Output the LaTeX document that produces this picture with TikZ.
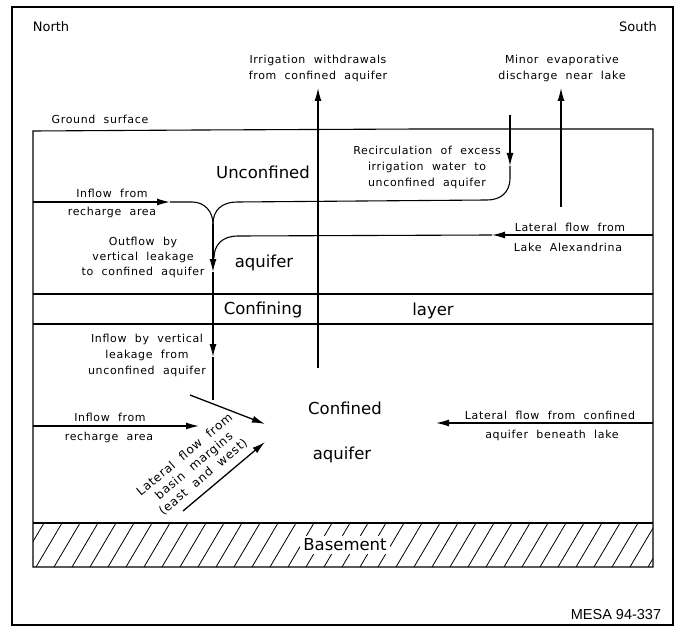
\documentclass[tikz,border=0pt]{standalone}
\usepackage{fontspec}
\setmainfont{DejaVu Sans}
\newfontfamily\lblfont{DejaVu Sans}[LetterSpace=6,WordSpace=2]
\newfontfamily\mesafont{Liberation Sans}
\usetikzlibrary{arrows.meta}
\tikzset{
  ln/.style={line width=1.1pt},
  arr/.style={line width=1.3pt,-{Latex[length=13pt,width=7pt]}},
  lbl/.style={font=\lblfont\fontsize{11}{16}\selectfont, align=center, inner sep=1pt},
  bigl/.style={font=\fontsize{16.5}{20}\selectfont, inner sep=0pt},
  dirl/.style={font=\fontsize{13}{15}\selectfont, inner sep=0pt},
}
\begin{document}
\begin{tikzpicture}[x=1pt,y=-1pt]
\useasboundingbox (0,0) rectangle (682,628);
\draw[line width=1.8pt] (12,7) rectangle (673,625);

% basement hatching
\begin{scope}
  \clip (33,523) rectangle (653,567);
  \foreach \x in {0,18,...,680} \draw[line width=0.8pt] (\x,567) -- (\x+26,523);
\end{scope}

% frame of the section
\coordinate (gl) at (33,131);
\coordinate (gm1) at (200,130);
\coordinate (gm2) at (420,129);
\coordinate (gr) at (653,129);
\coordinate (bl) at (33,567);
\coordinate (br) at (653,567);
\draw[ln] (bl) -- (gl) -- (gm1) -- (gm2) -- (gr) -- (br) -- cycle;
\coordinate (ct1) at (33,294); \coordinate (ct2) at (653,294);
\coordinate (cb1) at (33,324); \coordinate (cb2) at (653,324);
\coordinate (bt1) at (33,523); \coordinate (bt2) at (653,523);
\draw[ln] (ct1) -- (ct2);
\draw[ln] (cb1) -- (cb2);
\draw[ln] (bt1) -- (bt2);
\node[bigl, fill=white, inner sep=3pt] (base) at (345,545) {Basement};

% irrigation withdrawal and evaporation
\coordinate (irb) at (318,368); \coordinate (irtip) at (318,88);
\draw[arr] (irb) -- (irtip);
\coordinate (evb) at (561,207); \coordinate (evtip) at (561,88);
\draw[arr] (evb) -- (evtip);

% recirculation
\coordinate (rc0) at (510,115); \coordinate (rc1) at (510,166);
\coordinate (rc2) at (510,178); \coordinate (rc3) at (487,200);
\coordinate (rc4) at (237,202); \coordinate (jn) at (213,224);
\draw[arr] (rc0) -- (rc1);
\draw[ln] (rc1) -- (rc2) .. controls (510,193) and (500,200) .. (rc3) -- (rc4) .. controls (222,202) and (213,210) .. (jn);

% inflow from recharge area (unconfined)
\coordinate (in0) at (33,202); \coordinate (in1) at (170,202); \coordinate (in2) at (192,202);
\draw[arr] (in0) -- (in1);
\draw[ln] (in1) -- (in2) .. controls (205,202) and (213,212) .. (jn);

% vertical leakage
\coordinate (v1) at (213,272); \coordinate (v2) at (213,357); \coordinate (v3) at (213,400);
\draw[arr] (jn) -- (v1);
\draw[arr] (v1) -- (v2);
\draw[ln] (v2) -- (v3);

% lateral flow from lake
\coordinate (lk0) at (653,235); \coordinate (lk1) at (492,235);
\coordinate (lk2) at (238,236); \coordinate (lk3) at (214,258);
\draw[arr] (lk0) -- (lk1);
\draw[ln] (lk1) -- (lk2) .. controls (222,236) and (214,245) .. (lk3);

% confined aquifer arrows
\coordinate (ci0) at (33,426); \coordinate (ci1) at (199,426);
\draw[arr] (ci0) -- (ci1);
\coordinate (dg0) at (190,395); \coordinate (dg1) at (265,424);
\draw[arr] (dg0) -- (dg1);
\coordinate (bm0) at (183,511); \coordinate (bm1) at (265,442);
\draw[arr] (bm0) -- (bm1);
\coordinate (cl0) at (653,423); \coordinate (cl1) at (436,423);
\draw[arr] (cl0) -- (cl1);

% labels
\node[dirl] (north) at (51,27) {North};
\node[dirl] (south) at (638,27) {South};
\node[lbl] (irtxt) at (318,68) {Irrigation withdrawals\\from confined aquifer};
\node[lbl] (evtxt) at (562,68) {Minor evaporative\\discharge near lake};
\node[lbl] (gs) at (100,119) {Ground surface};
\node[lbl] (rctxt) at (427,167) {Recirculation of excess\\irrigation water to\\unconfined aquifer};
\node[lbl] (inA) at (112,193) {Inflow from};
\node[lbl] (inB) at (112,212) {recharge area};
\node[lbl, font=\lblfont\fontsize{11}{15}\selectfont] (outtxt) at (143,257) {Outflow by\\vertical leakage\\to confined aquifer};
\node[lbl] (lkA) at (570,227) {Lateral flow from};
\node[lbl] (lkB) at (568,247) {Lake Alexandrina};
\node[bigl] (unc) at (263,172) {Unconfined};
\node[bigl] (uaq) at (264,263) {aquifer};
\node[bigl] (conf) at (263,310) {Confining};
\node[bigl] (layer) at (433,311) {layer};
\node[lbl] (ivtxt) at (147,355) {Inflow by vertical\\leakage from\\unconfined aquifer};
\node[bigl] (cnf) at (345,408) {Confined};
\node[bigl] (caq) at (342,455) {aquifer};
\node[lbl] (ciA) at (110,417) {Inflow from};
\node[lbl] (ciB) at (109,437) {recharge area};
\node[lbl] (clA) at (550,415) {Lateral flow from confined};
\node[lbl] (clB) at (552,435) {aquifer beneath lake};
\node[lbl, rotate=40, font=\lblfont\fontsize{12}{14.5}\selectfont] (bmtxt) at (194,466) {Lateral flow from\\basin margins\\(east and west)};
\node[font=\mesafont\fontsize{14.5}{16}\selectfont, inner sep=0pt] (mesa) at (616,615) {MESA 94-337};
\end{tikzpicture}
\end{document}
